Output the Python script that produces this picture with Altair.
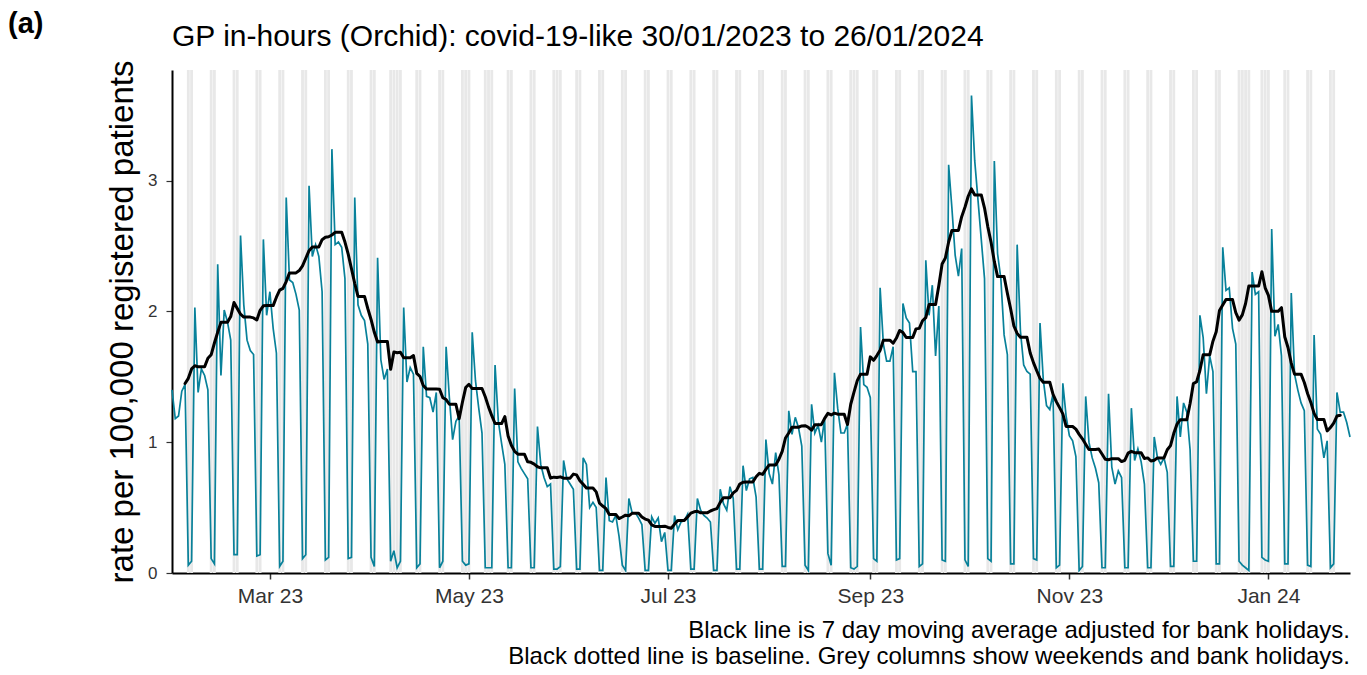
import altair as alt
import pandas as pd

START = "2023-01-30"
BANK_HOLIDAYS = ["2023-04-07", "2023-04-10", "2023-05-01", "2023-05-08", "2023-05-29",
                 "2023-08-28", "2023-12-25", "2023-12-26", "2024-01-01"]

# daily rate per 100,000, one row per week (Mon..Sun)
rate_q1 = [
    1.40, 1.18, 1.20, 1.39, 1.44, 0.06, 0.09,
    2.03, 1.38, 1.56, 1.51, 1.40, 0.11, 0.07,
    2.36, 1.51, 2.01, 1.92, 1.78, 0.14, 0.14,
    2.58, 2.05, 1.78, 1.70, 1.67, 0.13, 0.14,
    2.55, 1.97, 2.15, 1.87, 1.68, 0.05, 0.09,
    2.87, 2.24, 2.22, 2.13, 2.01, 0.11, 0.14,
    2.96, 2.42, 2.51, 2.42, 2.15, 0.10, 0.12,
    3.24, 2.51, 2.53, 2.49, 2.25, 0.11, 0.12,
    2.87, 2.05, 1.97, 1.93, 1.75, 0.12, 0.05,
    2.41, 1.63, 1.48, 1.56, 0.09, 0.17, 0.04,
    0.09, 2.03, 1.46, 1.57, 1.52, 0.04, 0.07,
    1.73, 1.35, 1.34, 1.23, 1.38, 0.04, 0.09,
    1.73, 1.34, 1.02, 1.16, 1.20, 0.09, 0.06,
]
rate_q2 = [
    0.07, 1.84, 1.47, 1.26, 1.07, 0.04, 0.04,
    0.04, 1.59, 1.16, 0.99, 0.83, 0.04, 0.04,
    1.41, 0.85, 0.80, 0.76, 0.72, 0.04, 0.04,
    1.12, 0.83, 0.73, 0.66, 0.68, 0.03, 0.03,
    0.05, 0.86, 0.72, 0.68, 0.64, 0.03, 0.03,
    0.88, 0.83, 0.50, 0.54, 0.50, 0.02, 0.02,
    0.73, 0.40, 0.39, 0.44, 0.28, 0.06, 0.02,
    0.57, 0.46, 0.46, 0.42, 0.37, 0.02, 0.02,
    0.43, 0.38, 0.42, 0.24, 0.31, 0.02, 0.02,
    0.44, 0.33, 0.39, 0.40, 0.45, 0.03, 0.03,
    0.57, 0.48, 0.44, 0.42, 0.39, 0.02, 0.02,
    0.64, 0.53, 0.48, 0.66, 0.57, 0.03, 0.03,
    0.82, 0.63, 0.72, 0.73, 0.58, 0.03, 0.03,
]
rate_q3 = [
    1.02, 0.76, 0.68, 0.92, 0.75, 0.05, 0.05,
    1.24, 1.06, 1.19, 1.11, 0.97, 0.06, 0.02,
    1.29, 1.07, 1.13, 1.00, 1.18, 0.15, 0.06,
    1.53, 1.26, 1.07, 1.07, 1.14, 0.04, 0.03,
    0.05, 1.88, 1.44, 1.42, 1.34, 0.11, 0.09,
    2.18, 1.75, 1.62, 1.62, 1.73, 0.10, 0.11,
    2.06, 1.95, 1.91, 1.54, 1.54, 0.05, 0.07,
    2.39, 1.97, 2.20, 1.66, 2.04, 0.10, 0.09,
    3.12, 2.79, 2.43, 2.27, 2.48, 0.10, 0.05,
    3.65, 3.15, 2.85, 2.55, 2.25, 0.11, 0.09,
    3.15, 2.44, 2.25, 1.82, 1.67, 0.07, 0.07,
    2.51, 1.85, 1.59, 1.54, 1.52, 0.11, 0.10,
    1.91, 1.48, 1.28, 1.25, 1.37, 0.04, 0.06,
]
rate_q4 = [
    1.45, 1.20, 1.05, 1.01, 0.89, 0.02, 0.05,
    1.35, 1.00, 0.88, 0.80, 0.69, 0.04, 0.04,
    1.37, 0.81, 0.68, 0.78, 0.73, 0.04, 0.04,
    1.26, 0.86, 0.95, 0.85, 0.68, 0.04, 0.04,
    1.04, 0.88, 0.83, 0.88, 0.77, 0.05, 0.05,
    1.35, 1.04, 1.30, 1.23, 0.94, 0.09, 0.09,
    1.97, 1.80, 1.37, 1.66, 1.54, 0.07, 0.07,
    2.49, 2.16, 2.18, 1.87, 1.75, 0.09, 0.06,
    0.04, 0.02, 2.30, 2.13, 2.15, 0.12, 0.10,
    0.09, 2.63, 1.81, 1.90, 1.66, 0.07, 0.07,
    2.14, 1.52, 1.40, 1.30, 1.24, 0.06, 0.05,
    1.82, 1.10, 1.06, 0.88, 1.01, 0.04, 0.07,
    1.38, 1.23, 1.23, 1.15, 1.04,
]

MONTH_TICKS = ["2023-03-01", "2023-05-01", "2023-07-01", "2023-09-01", "2023-11-01", "2024-01-01"]
TITLE = "GP in-hours (Orchid): covid-19-like 30/01/2023 to 26/01/2024"
PANEL = "(a)"
NOTE_1 = "Black line is 7 day moving average adjusted for bank holidays."
NOTE_2 = "Black dotted line is baseline. Grey columns show weekends and bank holidays."
Y_TITLE = "rate per 100,000 registered patients"
Y_MAX = 3.845

rate = rate_q1 + rate_q2 + rate_q3 + rate_q4
dates = pd.date_range(START, periods=len(rate), freq="D")
df = pd.DataFrame({
    "day": range(len(rate)),
    "date": dates.strftime("%Y-%m-%d"),
    "rate": rate,
})
df["off"] = (dates.dayofweek >= 5) | df["date"].isin(BANK_HOLIDAYS)


def ms(s):
    return int(pd.Timestamp(s, tz="UTC").value // 10**6)


FONT = "Liberation Sans"
W, H = 1178, 503

xscale = alt.Scale(type="utc", domain=[ms(dates[0].strftime("%Y-%m-%d")), ms(dates[-1].strftime("%Y-%m-%d"))])
yscale = alt.Scale(domain=[0, Y_MAX], nice=False, zero=True)

x_axis = alt.Axis(values=[ms(m) for m in MONTH_TICKS], labelExpr="utcFormat(datum.value, '%b %y')",
                  tickSize=6, tickWidth=1.5, tickColor="#333333", labelPadding=6,
                  labelFontSize=21, labelColor="#333333", labelFont=FONT,
                  domainColor="black", domainWidth=2, grid=False, title=None,
                  labelFlush=False, labelOverlap=False)
y_axis = alt.Axis(values=[0, 1, 2, 3], format="d", tickSize=6, tickWidth=1.2, tickColor="#333333",
                  labelPadding=9, labelFontSize=17, labelColor="#333333", labelFont=FONT,
                  domainColor="black", domainWidth=2, grid=False,
                  title=Y_TITLE, titleFontSize=33, titleFontWeight="normal", titleFont=FONT,
                  titleColor="black", titleX=-49.5, titleY=H / 2, titleAngle=270,
                  titleBaseline="middle", titleAlign="center")

base = alt.Chart(df)

bands = base.transform_filter("datum.off").transform_calculate(
    x0="toDate(datum.date) - 0.43*864e5", x1="toDate(datum.date) + 0.43*864e5"
).mark_rect(color="#E8E8E8").encode(
    x=alt.X("x0:T", scale=xscale, axis=x_axis),
    x2="x1:T",
    y=alt.datum(0, scale=yscale, axis=y_axis),
    y2=alt.datum(Y_MAX),
)

daily = base.mark_line(color="#08819A", strokeWidth=1.7).encode(
    x=alt.X("date:T", scale=xscale, axis=x_axis),
    y=alt.Y("rate:Q", scale=yscale, axis=y_axis),
)

ma = base.transform_calculate(
    ws="datum.off ? 0 : datum.rate", wc="datum.off ? 0 : 1"
).transform_window(
    s="sum(ws)", c="sum(wc)", frame=[-3, 3], sort=[alt.SortField("day")]
).transform_calculate(
    ma="datum.s / datum.c"
).transform_filter("datum.day >= 4 && datum.day <= 358").mark_line(
    color="black", strokeWidth=3, strokeJoin="round", strokeCap="round"
).encode(
    x=alt.X("date:T", scale=xscale, axis=x_axis),
    y=alt.Y("ma:Q", scale=yscale, axis=y_axis),
)


def label(text, x, y, size, align="left", weight="normal"):
    return alt.Chart(pd.DataFrame({"t": [text]})).mark_text(
        align=align, baseline="alphabetic", fontSize=size, font=FONT,
        fontWeight=weight, color="black"
    ).encode(x=alt.value(x), y=alt.value(y), text="t:N")


chart = alt.layer(
    bands, daily, ma,
    label(TITLE, 0, -24, 30),
    label(PANEL, -164, -37, 29, weight="bold"),
    label(NOTE_1, W, 568, 24, align="right"),
    label(NOTE_2, W, 594, 24, align="right"),
).properties(
    width=W, height=H,
    autosize=alt.AutoSizeParams(type="none"),
    padding={"left": 164, "top": 62, "right": 9, "bottom": 102},
).configure_view(stroke=None)

chart.save("out.html", embed_options={"renderer": "svg", "actions": False})
